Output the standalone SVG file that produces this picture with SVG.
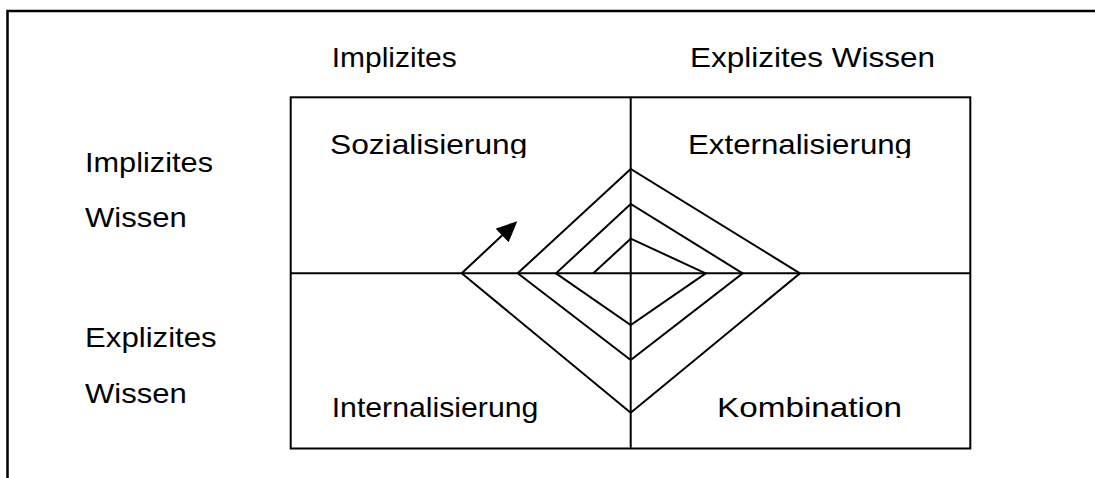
<svg xmlns="http://www.w3.org/2000/svg" width="1095" height="478" viewBox="0 0 1095 478">
  <style>
    .ln { fill: none; stroke: #000; stroke-width: 2; }
    .frame { fill: none; stroke: #000; stroke-width: 2.5; }
    .t { font-family: "Liberation Sans", Arial, sans-serif; font-size: 28.5px; fill: #000; }
  </style>
  <defs>
    <marker id="ah" markerUnits="userSpaceOnUse" markerWidth="21" markerHeight="20" refX="0" refY="9.5" orient="auto">
      <path d="M0,0 L21,9.5 L0,19 Z" fill="#000"/>
    </marker>
    <clipPath id="c1"><rect x="300" y="100" width="320" height="58"/></clipPath>
    <clipPath id="c2"><rect x="640" y="100" width="320" height="58"/></clipPath>
    <clipPath id="c3"><rect x="300" y="380" width="320" height="43"/></clipPath>
  </defs>
  <rect width="1095" height="478" fill="#fff"/>
  <g id="frame">
    <path class="frame" d="M7.5,478 L7.5,11 L1095,11"/>
  </g>
  <g id="grid">
    <rect class="ln" x="290.7" y="97.3" width="679.6" height="351.2"/>
    <line class="ln" x1="630.7" y1="97.3" x2="630.7" y2="448.5"/>
    <line class="ln" x1="290.7" y1="273.3" x2="970.3" y2="273.3"/>
  </g>
  <g id="col-implizit"><text class="t" x="331.7" y="66.7" textLength="125" lengthAdjust="spacingAndGlyphs">Implizites</text></g>
  <g id="col-explizit"><text class="t" x="690" y="66.7" textLength="245" lengthAdjust="spacingAndGlyphs">Explizites Wissen</text></g>
  <g id="row-implizit">
    <text class="t" x="85" y="171.7" textLength="128" lengthAdjust="spacingAndGlyphs">Implizites</text>
    <text class="t" x="85" y="227" textLength="101.7" lengthAdjust="spacingAndGlyphs">Wissen</text>
  </g>
  <g id="row-explizit">
    <text class="t" x="85" y="346.7" textLength="131.7" lengthAdjust="spacingAndGlyphs">Explizites</text>
    <text class="t" x="85" y="403" textLength="101.7" lengthAdjust="spacingAndGlyphs">Wissen</text>
  </g>
  <g id="sozialisierung"><text class="t" x="330" y="154" textLength="197.3" lengthAdjust="spacingAndGlyphs" clip-path="url(#c1)">Sozialisierung</text></g>
  <g id="externalisierung"><text class="t" x="688" y="154" textLength="224" lengthAdjust="spacingAndGlyphs" clip-path="url(#c2)">Externalisierung</text></g>
  <g id="internalisierung"><text class="t" x="331.7" y="416.7" textLength="206.7" lengthAdjust="spacingAndGlyphs" clip-path="url(#c3)">Internalisierung</text></g>
  <g id="kombination"><text class="t" x="717" y="416.7" textLength="185" lengthAdjust="spacingAndGlyphs">Kombination</text></g>
  <g id="connectors">
    <path class="ln" stroke-linejoin="miter" marker-end="url(#ah)" d="M593.3,273.3 L630.7,238.7 L705.7,273.3 L630.7,325 L556,273.3 L630.7,204 L742.7,273.3 L630.7,360 L517.7,273.3 L630.7,169 L800,273.3 L630.7,412.7 L461.7,273.3 L502,235.5"/>
  </g>
</svg>
